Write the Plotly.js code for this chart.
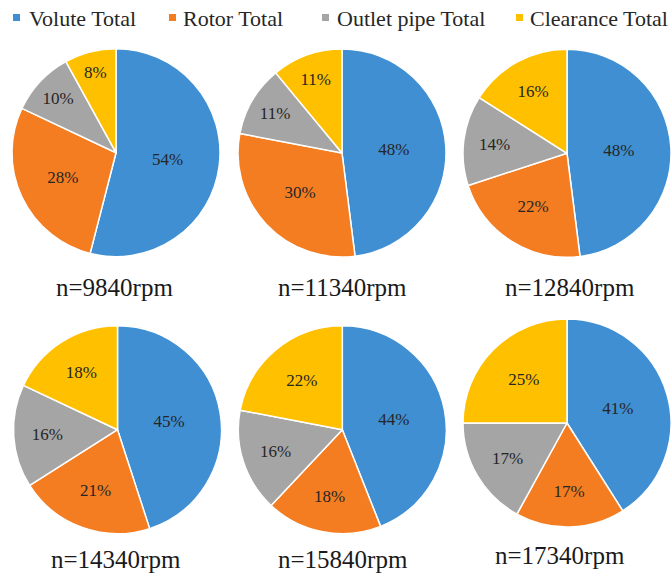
<!DOCTYPE html>
<html>
<head>
<meta charset="utf-8">
<script src="https://cdn.plot.ly/plotly-3.0.1.min.js"></script>
<style>
  html, body { margin: 0; padding: 0; background: #fff; }
  #chart { width: 671px; height: 573px; }
</style>
</head>
<body>
<div id="chart"></div>
<script>
// Loss share of each component (%) at each rotational speed
const components = ['Volute Total', 'Rotor Total', 'Outlet pipe Total', 'Clearance Total'];
const speeds = ['n=9840rpm', 'n=11340rpm', 'n=12840rpm', 'n=14340rpm', 'n=15840rpm', 'n=17340rpm'];
const volute    = [54, 48, 48, 45, 44, 41];
const rotor     = [28, 30, 22, 21, 18, 17];
const outlet    = [10, 11, 14, 16, 16, 17];
const clearance = [8, 11, 16, 18, 22, 25];

const colors = ['#3F8FD2', '#F47D22', '#A5A5A5', '#FFC000'];

const W = 671, H = 573;
const R = 104;
// pie centres in pixels; captions are anchored by their bottom edge
const pieCentres = [[116, 152.7], [342, 153], [567, 153.3], [117.5, 429.7], [342.3, 429.7], [567, 423]];
const captionPos = [[114, 301], [343, 301], [570, 301], [116, 573], [342.5, 573], [560, 569]];

const px = x => x / W;
const py = y => 1 - y / H;

const serif = 'Liberation Serif';

const traces = speeds.map((s, i) => {
  const [cx, cy] = pieCentres[i];
  return {
    type: 'pie',
    labels: components,
    values: [volute[i], rotor[i], outlet[i], clearance[i]],
    sort: false,
    direction: 'clockwise',
    rotation: 0,
    marker: { colors: colors, line: { color: '#ffffff', width: 1.5 } },
    texttemplate: '%{value}%',
    textposition: 'inside',
    insidetextorientation: 'horizontal',
    insidetextfont: { family: serif, size: 17, color: '#262626' },
    hoverinfo: 'label+value',
    showlegend: false,
    domain: {
      x: [px(cx - R), Math.min(1, px(cx + R))],
      y: [py(cy + R), py(cy - R)]
    }
  };
});

const annotations = speeds.map((s, i) => ({
  xref: 'paper', yref: 'paper',
  x: px(captionPos[i][0]), y: py(captionPos[i][1]),
  xanchor: 'center', yanchor: 'bottom',
  borderpad: 0, borderwidth: 0,
  text: s, showarrow: false,
  font: { family: serif, size: 25, color: '#1a1a1a' }
}));

// legend drawn as coloured squares followed by the component names
const legendSquareX = [13, 169, 322, 516];
const legendTextX = [29, 183, 337, 530];
const shapes = [];
components.forEach((c, k) => {
  shapes.push({
    type: 'rect', xref: 'paper', yref: 'paper',
    x0: px(legendSquareX[k]), x1: px(legendSquareX[k] + 7),
    y0: py(21), y1: py(14),
    fillcolor: colors[k], line: { width: 0 }
  });
  annotations.push({
    xref: 'paper', yref: 'paper',
    x: px(legendTextX[k] - 2), y: py(18),
    xanchor: 'left', yanchor: 'middle',
    text: c, showarrow: false,
    font: { family: serif, size: 22, color: '#262626' }
  });
});

const layout = {
  width: W, height: H,
  margin: { l: 0, r: 0, t: 0, b: 0 },
  paper_bgcolor: '#ffffff',
  font: { family: serif },
  showlegend: false,
  annotations: annotations,
  shapes: shapes
};

Plotly.newPlot('chart', traces, layout, { displayModeBar: false, staticPlot: true });
</script>
</body>
</html>
